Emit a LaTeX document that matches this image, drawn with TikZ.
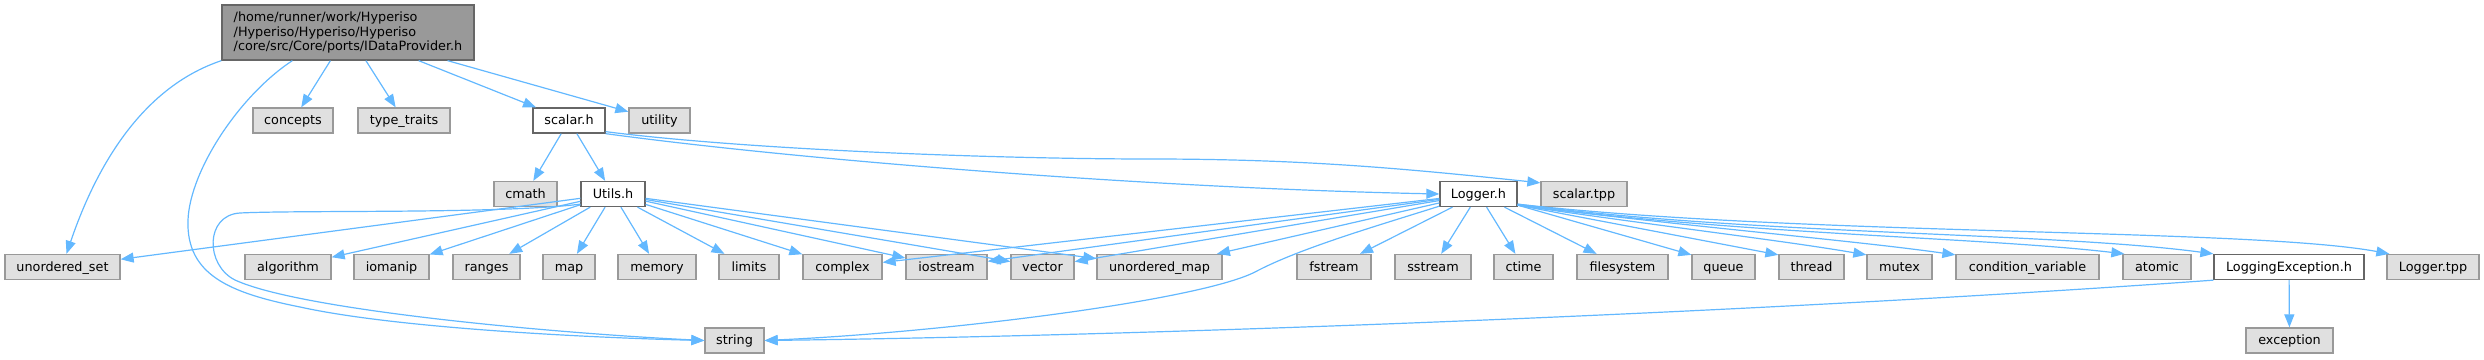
\documentclass[tikz,border=0pt]{standalone}
\usepackage{fontspec}
\setmainfont{DejaVu Sans}
\usetikzlibrary{arrows.meta}
\definecolor{edgecol}{HTML}{63B8FF}
\definecolor{gfill}{HTML}{E0E0E0}
\definecolor{gdraw}{HTML}{999999}
\definecolor{wdraw}{HTML}{666666}
\begin{document}
\begin{tikzpicture}[x=1pt,y=-1pt,
  font=\fontsize{12.8}{14.5}\selectfont,
  gnode/.style={draw=gdraw, fill=gfill, line width=1.3pt, inner sep=0pt,
    minimum height=25pt, text height=9.5pt, text depth=1.5pt},
  wnode/.style={gnode, draw=wdraw, fill=white},
  edge/.style={draw=edgecol, line width=1.2pt, -{Triangle[length=13pt,width=10pt]}}]
\useasboundingbox (0,0) rectangle (2484,359);

% row 0
\node[draw=wdraw, fill=gdraw, line width=1.3pt, inner sep=0pt, minimum width=252pt,
  minimum height=55pt, align=left] (root) at (348,32.5)
  {/home/runner/work/Hyperiso\\/Hyperiso/Hyperiso/Hyperiso\\/core/src/Core/ports/IDataProvider.h};

% row 1
\node[gnode, minimum width=80pt] (concepts) at (293,120.5) {concepts};
\node[gnode, minimum width=92pt] (typetraits) at (404,120.5) {type\_traits};
\node[wnode, minimum width=72pt] (scalar) at (569,120.5) {scalar.h};
\node[gnode, minimum width=61pt] (utility) at (659.5,120.5) {utility};

% row 2
\node[gnode, minimum width=63pt] (cmath) at (525.5,194) {cmath};
\node[wnode, minimum width=64pt] (utils) at (613,194) {Utils.h};
\node[wnode, minimum width=77pt] (logger) at (1478.5,194) {Logger.h};
\node[gnode, minimum width=86pt] (scalartpp) at (1584,194) {scalar.tpp};

% row 3
\node[gnode, minimum width=115pt] (uset) at (62.5,267) {unordered\_set};
\node[gnode, minimum width=86pt] (algorithm) at (288,267) {algorithm};
\node[gnode, minimum width=75pt] (iomanip) at (391.5,267) {iomanip};
\node[gnode, minimum width=67pt] (ranges) at (486.5,267) {ranges};
\node[gnode, minimum width=52pt] (map) at (569,267) {map};
\node[gnode, minimum width=78pt] (memory) at (657,267) {memory};
\node[gnode, minimum width=60pt] (limits) at (749,267) {limits};
\node[gnode, minimum width=79pt] (complex) at (842.5,267) {complex};
\node[gnode, minimum width=81pt] (iostream) at (946.5,267) {iostream};
\node[gnode, minimum width=63pt] (vector) at (1042.5,267) {vector};
\node[gnode, minimum width=125pt] (umap) at (1159.5,267) {unordered\_map};
\node[gnode, minimum width=74pt] (fstream) at (1334,267) {fstream};
\node[gnode, minimum width=76pt] (sstream) at (1433,267) {sstream};
\node[gnode, minimum width=59pt] (ctime) at (1523.5,267) {ctime};
\node[gnode, minimum width=91pt] (filesystem) at (1622.5,267) {filesystem};
\node[gnode, minimum width=63pt] (queue) at (1723.5,267) {queue};
\node[gnode, minimum width=65pt] (thread) at (1811.5,267) {thread};
\node[gnode, minimum width=65pt] (mutex) at (1899.5,267) {mutex};
\node[gnode, minimum width=143pt] (condvar) at (2027.5,267) {condition\_variable};
\node[gnode, minimum width=68pt] (atomic) at (2157,267) {atomic};
\node[wnode, minimum width=150pt] (logexc) at (2289,267) {LoggingException.h};
\node[gnode, minimum width=92pt] (loggertpp) at (2433,267) {Logger.tpp};

% row 4
\node[gnode, minimum width=59pt] (string) at (734.5,340.5) {string};
\node[gnode, minimum width=87pt] (exception) at (2289.5,340.5) {exception};

% root edges
\draw[edge] (root.south west) .. controls (140,88) and (95,170) .. ([xshift=4pt]uset.north);
\draw[edge] ([xshift=71pt]root.south west) .. controls (240,95) and (190,170) .. (188,220)
  .. controls (186,275) and (230,293) .. (300,307)
  .. controls (400,329) and (600,338) .. (string.west);
\draw[edge] (root) -- (concepts);
\draw[edge] (root) -- (typetraits);
\draw[edge] (root) -- (scalar);
\draw[edge] (root) -- (utility);

% scalar.h edges
\draw[edge] (scalar) -- (cmath);
\draw[edge] (scalar) -- (utils);
\draw[edge] (scalar.south east) .. controls (800,160) and (1150,188) .. (logger.west);
\draw[edge] ([yshift=2pt]scalar.south east) .. controls (750,150) and (1000,159) .. (1150,159)
  .. controls (1300,159) and (1400,168) .. ([yshift=-2pt]scalartpp.north west);

% Utils.h edges
\draw[edge] (utils) -- (uset);
\draw[edge] (utils) -- (algorithm);
\draw[edge] (utils) -- (iomanip);
\draw[edge] (utils) -- (ranges);
\draw[edge] (utils) -- (map);
\draw[edge] (utils) -- (memory);
\draw[edge] (utils) -- (limits);
\draw[edge] (utils) -- (complex);
\draw[edge] (utils) -- (iostream);
\draw[edge] (utils) -- (vector);
\draw[edge] (utils) -- (umap);
\draw[edge] ([yshift=3pt]utils.south west) .. controls (500,214) and (300,210) .. (240,213)
  .. controls (205,215) and (205,265) .. (235,280)
  .. controls (300,310) and (550,333) .. (string.west);

% Logger.h edges
\draw[edge] (logger) -- (complex);
\draw[edge] (logger) -- (iostream);
\draw[edge] (logger) -- (vector);
\draw[edge] (logger) -- (umap);
\draw[edge] ([yshift=1pt]logger.south west) .. controls (1380,225) and (1300,248) .. (1255,272)
  .. controls (1200,300) and (950,332) .. (string.east);
\draw[edge] (logger) -- (fstream);
\draw[edge] (logger) -- (sstream);
\draw[edge] (logger) -- (ctime);
\draw[edge] (logger) -- (filesystem);
\draw[edge] ([yshift=2pt]logger.south east) -- ([yshift=-1pt]queue.north west);
\draw[edge] ([yshift=2pt]logger.south east) -- ([yshift=-1pt]thread.north west);
\draw[edge] ([yshift=2pt]logger.south east) .. controls (1650,225) and (1780,240) .. ([yshift=-1pt]mutex.north west);
\draw[edge] ([yshift=2pt]logger.south east) .. controls (1700,228) and (1850,240) .. ([yshift=-1pt]condvar.north west);
\draw[edge] ([yshift=2pt]logger.south east) .. controls (1750,235) and (1980,237) .. ([xshift=2pt]atomic.north west);
\draw[edge] ([yshift=3pt]logger.south east) .. controls (1750,235) and (2050,232) .. (logexc.north west);
\draw[edge] ([yshift=3pt]logger.south east) .. controls (1800,236) and (2250,228) .. ([xshift=3pt]loggertpp.north west);

% LoggingException.h edges
\draw[edge] (logexc.south west) .. controls (1800,310) and (1200,335) .. (string.east);
\draw[edge] (logexc) -- (exception);
\end{tikzpicture}
\end{document}
